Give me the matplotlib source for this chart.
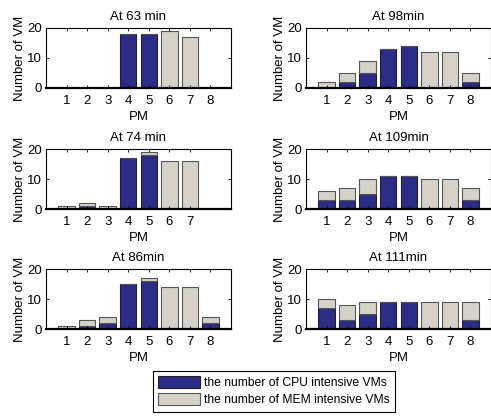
import numpy as np
import matplotlib
matplotlib.use("Agg")
import matplotlib.pyplot as plt

plt.rcParams['font.family'] = ['Liberation Sans', 'DejaVu Sans']
plt.rcParams['font.size'] = 9.5

CPU_COLOR = "#2b2c85"
MEM_COLOR = "#d6d2ca"

titles = ["At 63 min", "At 98min", "At 74 min", "At 109min", "At 86min", "At 111min"]
pm_counts = [8, 8, 7, 8, 8, 8]

cpu_63 = [0, 0, 0, 18, 18, 0, 0, 0]
mem_63 = [0, 0, 0, 0, 0, 19, 17, 0]
cpu_98 = [0, 2, 5, 13, 14, 0, 0, 2]
mem_98 = [2, 3, 4, 0, 0, 12, 12, 3]
cpu_74 = [0, 1, 0, 17, 18, 0, 0]
mem_74 = [1, 1, 1, 0, 1, 16, 16]
cpu_109 = [3, 3, 5, 11, 11, 0, 0, 3]
mem_109 = [3, 4, 5, 0, 0, 10, 10, 4]
cpu_86 = [0, 1, 2, 15, 16, 0, 0, 2]
mem_86 = [1, 2, 2, 0, 1, 14, 14, 2]
cpu_111 = [7, 3, 5, 9, 9, 0, 0, 3]
mem_111 = [3, 5, 4, 0, 0, 9, 9, 6]

cpu_all = [cpu_63, cpu_98, cpu_74, cpu_109, cpu_86, cpu_111]
mem_all = [mem_63, mem_98, mem_74, mem_109, mem_86, mem_111]

fig = plt.figure(figsize=(4.91, 4.16), dpi=100)

lefts = [46 / 491, 306 / 491]
width = 185 / 491
bottoms = [1 - 88 / 416, 1 - 209 / 416, 1 - 329 / 416]
height = 60 / 416

for i in range(6):
    row, col = i // 2, i % 2
    ax = fig.add_axes([lefts[col], bottoms[row], width, height])
    n = pm_counts[i]
    x = np.arange(1, n + 1)
    cpu = np.array(cpu_all[i])
    mem = np.array(mem_all[i])
    ax.bar(x, cpu, width=0.8, color=CPU_COLOR, edgecolor="#222222", linewidth=0.8)
    ax.bar(x, mem, width=0.8, bottom=cpu, color=MEM_COLOR, edgecolor="#555555", linewidth=0.8)
    ax.set_xlim(0, 9)
    ax.set_ylim(0, 20)
    ax.set_xticks(x)
    ax.set_yticks([0, 10, 20])
    ax.tick_params(direction="in", top=True, right=True, length=2.5, width=0.6)
    ax.tick_params(axis="x", pad=5)
    ax.tick_params(axis="y", pad=3)
    for s in ax.spines.values():
        s.set_linewidth(0.8)
    ax.spines["bottom"].set_linewidth(1.6)
    ax.set_title(titles[i], fontsize=9.5, pad=6)
    ax.set_xlabel("PM", labelpad=3)
    ax.set_ylabel("Number of VM", labelpad=1)

h1 = plt.Rectangle((0, 0), 1, 1, facecolor=CPU_COLOR, edgecolor="#222222", linewidth=0.8)
h2 = plt.Rectangle((0, 0), 1, 1, facecolor=MEM_COLOR, edgecolor="#555555", linewidth=0.8)
leg = fig.legend([h1, h2], ["the number of CPU intensive VMs", "the number of MEM intensive VMs"],
                 loc="upper left", bbox_to_anchor=(153 / 491, 1 - 371 / 416),
                 fancybox=False, framealpha=1, edgecolor="black",
                 handlelength=3.4, handleheight=1.1, handletextpad=0.35,
                 borderpad=0.45, labelspacing=0.3, borderaxespad=0, fontsize=8.75)
leg.get_frame().set_linewidth(0.8)

fig.savefig("out.png", dpi=100)
